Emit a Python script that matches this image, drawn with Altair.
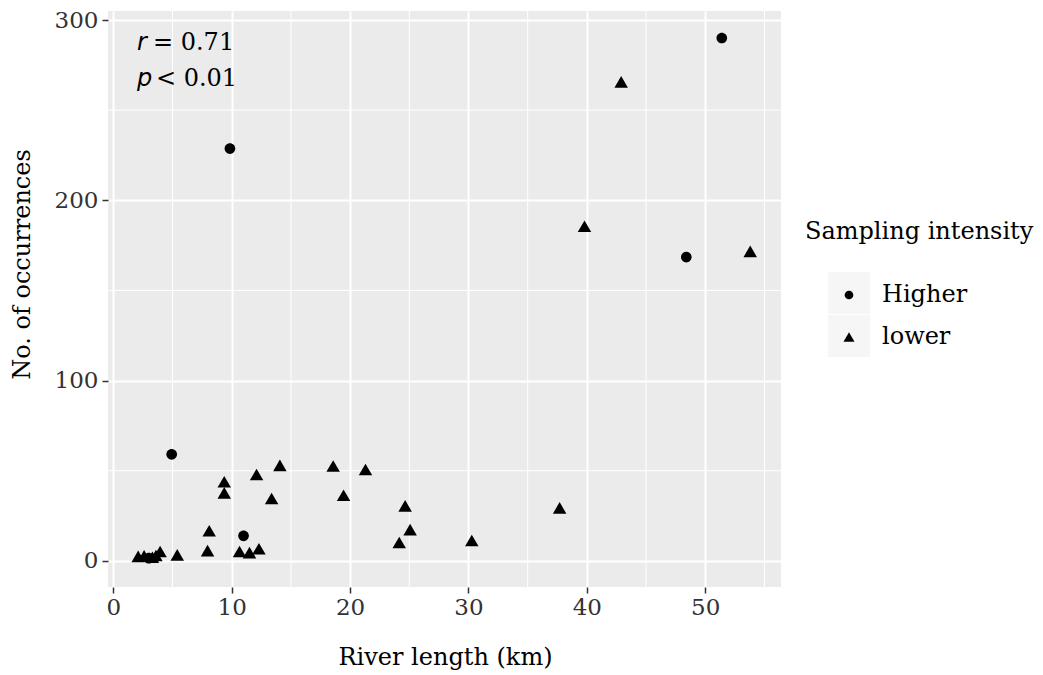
import altair as alt
import pandas as pd

# ---- data ----
hi_x = [51.4, 9.85, 48.4, 4.93, 11.0, 3.0]
hi_y = [290.0, 228.7, 168.5, 59.1, 13.9, 1.5]

lo_x = [42.9, 39.8, 53.8, 9.37, 9.37, 12.1, 14.07, 13.37, 8.1, 7.96, 10.66, 11.5,
        12.3, 5.4, 18.57, 21.3, 19.45, 24.65, 25.07, 24.15, 30.28, 37.7,
        2.1, 2.6, 3.3, 3.6, 3.95]
lo_y = [265.7, 185.6, 171.7, 43.9, 37.7, 47.9, 53.0, 34.6, 16.7, 5.7, 5.2, 4.6,
        6.7, 3.3, 52.6, 50.7, 36.4, 30.5, 17.3, 10.2, 11.3, 29.4,
        2.5, 2.8, 2.0, 3.0, 5.2]

groups = ["Higher", "lower"]
key_groups = ["Higher key", "lower key"]

x_major = [0, 10, 20, 30, 40, 50]
x_minor = [5, 15, 25, 35, 45, 55]
y_major = [0, 100, 200, 300]
y_minor = [50, 150, 250]

ann_sym = ["r", "p"]
ann_rest = ["= 0.71", "< 0.01"]
ann_x = [2.0, 2.0]
ann_rest_x = [3.35, 3.6]
ann_y = [287.5, 267.5]

# ---- tables ----
df = pd.DataFrame({
    "x": hi_x + lo_x,
    "y": hi_y + lo_y,
    "g": ["Higher"] * len(hi_x) + ["lower"] * len(lo_x),
})
df["key"] = df["g"] + " key"

xminor_df = pd.DataFrame({"v": x_minor})
yminor_df = pd.DataFrame({"v": y_minor})
ann_df = pd.DataFrame({"x": ann_x, "xr": ann_rest_x, "y": ann_y,
                       "sym": ann_sym, "rest": ann_rest})

SERIF = "DejaVu Serif"
CIRCLE = "M0,-0.87A0.87,0.87,0,1,1,0,0.87A0.87,0.87,0,1,1,0,-0.87Z"
TRIANGLE = "M0,-0.95L1.1,0.95L-1.1,0.95Z"

xs = alt.Scale(domain=[-0.45, 56.4], nice=False, zero=False)
ys = alt.Scale(domain=[-14.5, 305], nice=False, zero=False)

axis_common = dict(
    grid=True, gridColor="white", gridWidth=2,
    domain=False, ticks=True, tickColor="#333333", tickSize=6, tickWidth=1.5,
    labelFont=SERIF, labelFontSize=23, labelColor="#333333",
    titleFont=SERIF, titleFontSize=24, titleFontWeight="normal", titleColor="black",
)

x_enc = alt.X("x:Q", scale=xs,
              axis=alt.Axis(values=x_major, title="River length (km)",
                            labelPadding=3, titleX=337, titleY=70,
                            titleAlign="center", titleBaseline="middle",
                            **axis_common))
y_enc = alt.Y("y:Q", scale=ys,
              axis=alt.Axis(values=y_major, title="No. of occurrences",
                            labelPadding=4, titleX=-86, titleY=253, titleAngle=270,
                            titleAlign="center", titleBaseline="middle",
                            **axis_common))

xminor = alt.Chart(xminor_df).mark_rule(color="white", strokeWidth=1).encode(
    x=alt.X("v:Q", scale=xs))
yminor = alt.Chart(yminor_df).mark_rule(color="white", strokeWidth=1).encode(
    y=alt.Y("v:Q", scale=ys))

keys = alt.Chart(df).transform_filter("false").mark_square().encode(
    x=alt.X("x:Q", scale=xs),
    y=alt.Y("y:Q", scale=ys),
    color=alt.Color("key:N",
                    scale=alt.Scale(domain=key_groups, range=["#F2F2F2", "#F2F2F2"]),
                    legend=alt.Legend(title=None, orient="none", legendX=720, legendY=261,
                                      direction="vertical", padding=0,
                                      symbolType="square", symbolSize=1764,
                                      symbolStrokeWidth=0, rowPadding=1,
                                      labelOpacity=0, labelFontSize=2)),
)

pts = alt.Chart(df).mark_point(filled=True, opacity=1, color="black", size=150).encode(
    x=x_enc,
    y=y_enc,
    shape=alt.Shape("g:N",
                    scale=alt.Scale(domain=groups, range=[CIRCLE, TRIANGLE]),
                    legend=alt.Legend(title="Sampling intensity", orient="none",
                                      legendX=697, legendY=209, direction="vertical",
                                      padding=0, titleFont=SERIF, titleFontSize=24,
                                      titleFontWeight="normal", titleColor="black",
                                      titlePadding=39, titleLimit=400, labelLimit=300,
                                      labelFont=SERIF, labelFontSize=24, labelColor="black",
                                      symbolSize=100, symbolFillColor="black",
                                      symbolStrokeWidth=0, symbolOffset=32,
                                      labelOffset=21, rowPadding=18)),
)

sym_txt = alt.Chart(ann_df).mark_text(
    align="left", baseline="middle", font="DejaVu Sans", fontStyle="italic",
    fontSize=24, color="black").encode(
    x=alt.X("x:Q", scale=xs), y=alt.Y("y:Q", scale=ys), text="sym:N")
rest_txt = alt.Chart(ann_df).mark_text(
    align="left", baseline="middle", font=SERIF, fontSize=24, color="black").encode(
    x=alt.X("xr:Q", scale=xs), y=alt.Y("y:Q", scale=ys), text="rest:N")

chart = alt.layer(xminor, yminor, keys, pts, sym_txt, rest_txt).properties(
    width=673, height=576,
    padding={"left": 100, "top": 3, "right": 254, "bottom": 86},
    autosize=alt.AutoSizeParams(type="none"),
).configure_view(fill="#EBEBEB", strokeWidth=0)

chart.save("out.html", embed_options={"renderer": "svg", "actions": False})
